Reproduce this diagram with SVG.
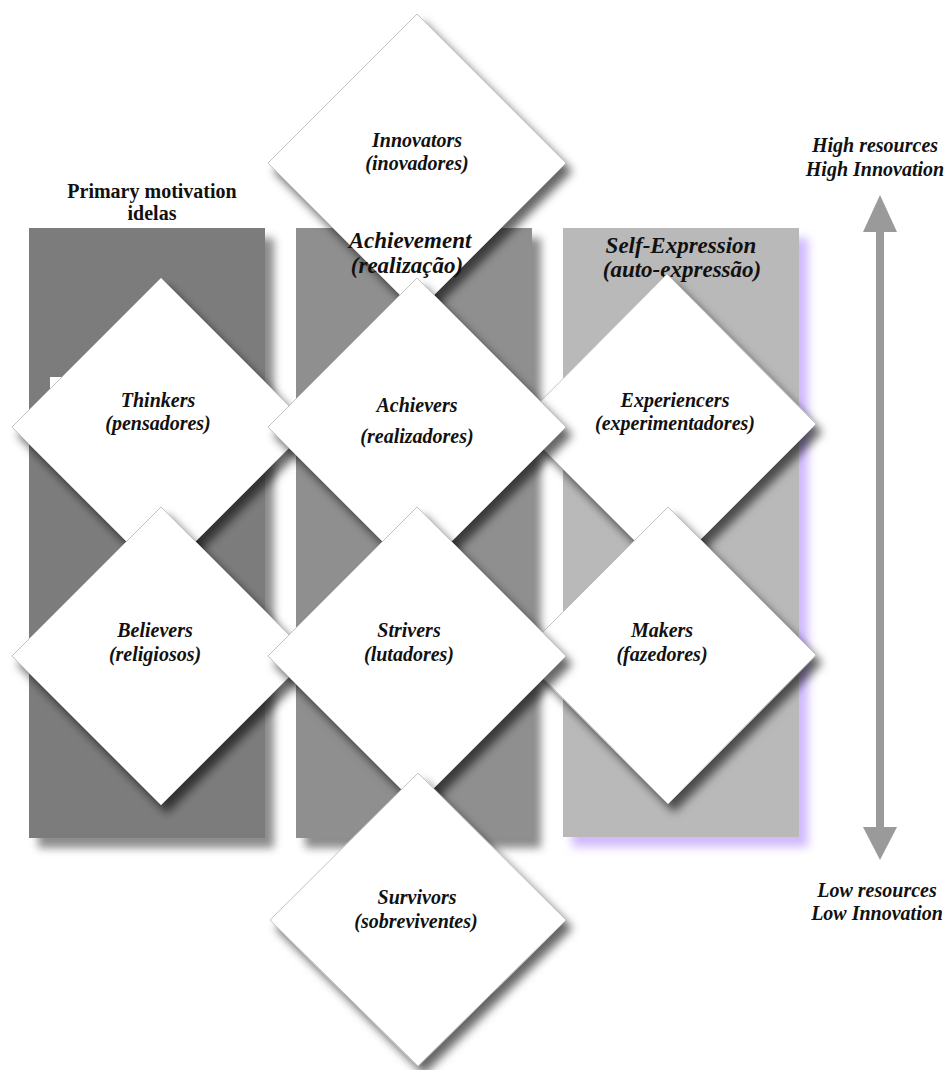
<svg xmlns="http://www.w3.org/2000/svg" width="950" height="1070" viewBox="0 0 950 1070">
<defs>
<filter id="colShadow" x="-10%" y="-10%" width="130%" height="130%">
<feDropShadow dx="9" dy="10" stdDeviation="4" flood-color="#000" flood-opacity="0.45"/>
</filter>
<filter id="glow" x="-10%" y="-10%" width="130%" height="130%">
<feDropShadow dx="9" dy="10" stdDeviation="5" flood-color="#c4a8ff" flood-opacity="0.8"/>
</filter>
<filter id="ds" x="-15%" y="-15%" width="140%" height="140%">
<feDropShadow dx="6" dy="8" stdDeviation="5" flood-color="#000" flood-opacity="0.6"/>
</filter>
<style>
.dia{fill:#fff;stroke:#c4c4c4;stroke-width:1;filter:url(#ds)}
.lbl{font-family:"Liberation Serif","Times New Roman",serif;font-weight:bold;font-style:italic;font-size:20px;text-anchor:middle;fill:#111}
.hdr{font-family:"Liberation Serif","Times New Roman",serif;font-weight:bold;font-style:italic;font-size:23px;text-anchor:middle;fill:#111}
.ttl{font-family:"Liberation Serif","Times New Roman",serif;font-weight:bold;font-size:20px;text-anchor:middle;fill:#111}
.arr{fill:#9a9a9a}
</style>
</defs>
<rect width="950" height="1070" fill="#fff"/>

<g id="columns">
<rect id="col-ideals" x="29" y="228" width="236" height="610" fill="#7b7b7b" filter="url(#colShadow)"/>
<rect id="col-achievement" x="296" y="228" width="236" height="610" fill="#8f8f8f" filter="url(#colShadow)"/>
<rect id="col-selfexpression" x="563" y="228" width="236" height="609" fill="#b9b9b9" filter="url(#glow)"/>
<rect x="50" y="377" width="22" height="48" fill="#fff"/>
</g>

<g id="innovators">
<polygon class="dia" points="417,14 566,163 417,312 268,163"/>
<text class="lbl" x="417" y="147">Innovators</text>
<text class="lbl" x="417" y="170">(inovadores)</text>
</g>

<g id="headers">
<text class="ttl" x="152" y="198">Primary motivation</text>
<text class="ttl" x="152" y="220">idelas</text>
<text class="hdr" x="410" y="248">Achievement</text>
<text class="hdr" x="407" y="273">(realização)</text>
<text class="hdr" x="681" y="253">Self-Expression</text>
<text class="hdr" x="682" y="277">(auto-expressão)</text>
</g>

<g id="thinkers">
<polygon class="dia" points="161,278 310,427 161,576 12,427"/>
<text class="lbl" x="158" y="407">Thinkers</text>
<text class="lbl" x="158" y="430">(pensadores)</text>
</g>

<g id="believers">
<polygon class="dia" points="161,507 310,656 161,805 12,656"/>
<text class="lbl" x="155" y="637">Believers</text>
<text class="lbl" x="155" y="661">(religiosos)</text>
</g>

<g id="experiencers">
<polygon class="dia" points="667,274 816,424 667,573 518,424"/>
<text class="lbl" x="675" y="407">Experiencers</text>
<text class="lbl" x="675" y="430">(experimentadores)</text>
</g>

<g id="makers">
<polygon class="dia" points="668,507 816,655 668,804 520,655"/>
<text class="lbl" x="662" y="637">Makers</text>
<text class="lbl" x="662" y="661">(fazedores)</text>
</g>

<g id="achievers">
<polygon class="dia" points="417,278 566,427 417,576 268,427"/>
<text class="lbl" x="417" y="412">Achievers</text>
<text class="lbl" x="417" y="443">(realizadores)</text>
</g>

<g id="strivers">
<polygon class="dia" points="417,507 566,656 417,805 268,656"/>
<text class="lbl" x="409" y="637">Strivers</text>
<text class="lbl" x="409" y="661">(lutadores)</text>
</g>

<g id="survivors">
<polygon class="dia" points="418,773 566,920 418,1066 270,920"/>
<text class="lbl" x="417" y="904">Survivors</text>
<text class="lbl" x="416" y="928">(sobreviventes)</text>
</g>

<g id="connectors">
<rect class="arr" x="876" y="230" width="8" height="600"/>
<polygon class="arr" points="880,195 897,232 863,232"/>
<polygon class="arr" points="880,860 897,827 863,827"/>
</g>

<g id="axis-labels">
<text class="lbl" x="875" y="152">High resources</text>
<text class="lbl" x="875" y="176">High Innovation</text>
<text class="lbl" x="877" y="897">Low resources</text>
<text class="lbl" x="877" y="920">Low Innovation</text>
</g>
</svg>
